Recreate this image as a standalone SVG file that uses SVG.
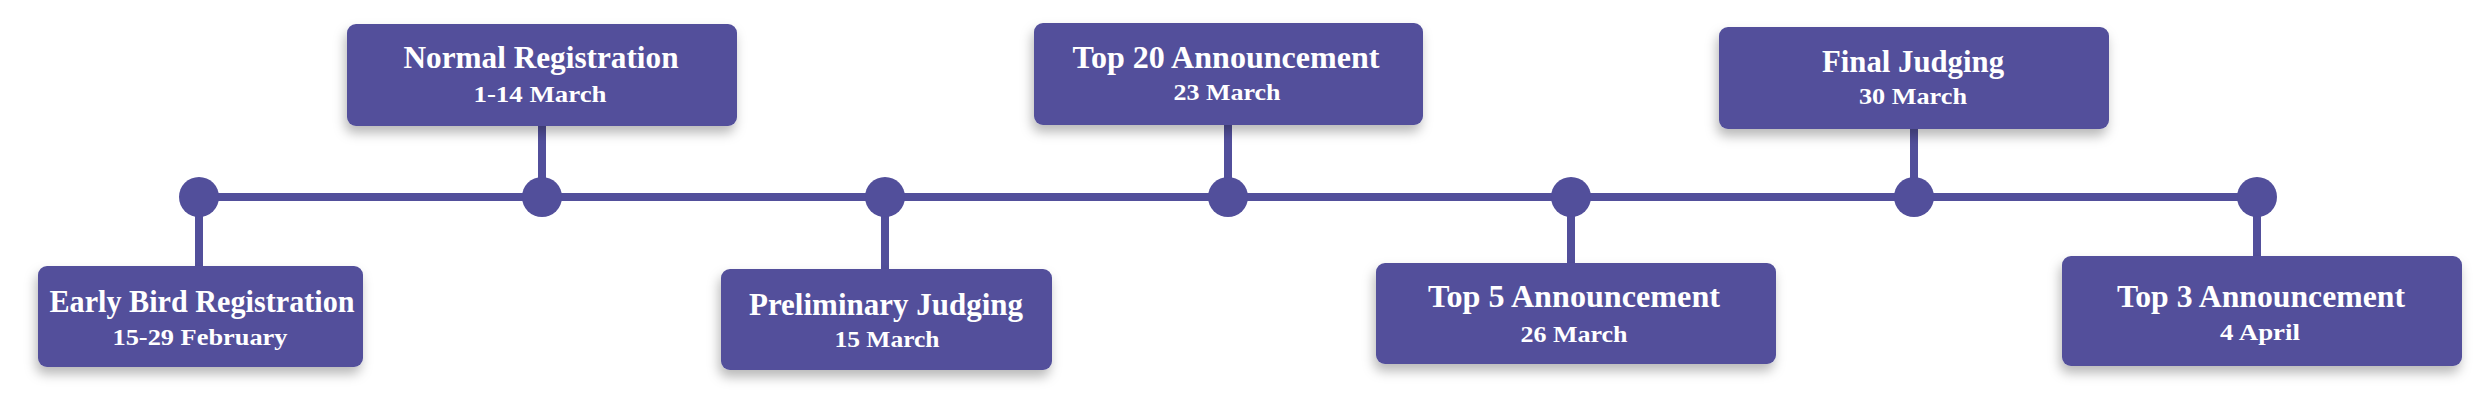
<svg xmlns="http://www.w3.org/2000/svg" width="2485" height="409" viewBox="0 0 2485 409">
<style>
.box{fill:#524F9B;filter:url(#sh)}
.ln{stroke:#524F9B;stroke-width:8;fill:none}
.dot{fill:#524F9B}
.t{font-family:"Liberation Serif","Times New Roman",serif;font-weight:bold;fill:#FFFFFF;text-anchor:middle}
.ti{font-size:32px}
.dt{font-size:24px}
</style>
<defs>
<filter id="sh" x="-10%" y="-20%" width="120%" height="160%">
<feDropShadow dx="-2" dy="7" stdDeviation="6" flood-color="#000000" flood-opacity="0.28"/>
</filter>
</defs>
<rect width="2485" height="409" fill="#FFFFFF"/>
<g id="connectors">
<line class="ln" x1="199" y1="197" x2="2257" y2="197"/>
<line class="ln" x1="199" y1="197" x2="199" y2="268"/>
<line class="ln" x1="542" y1="124" x2="542" y2="197"/>
<line class="ln" x1="885" y1="197" x2="885" y2="271"/>
<line class="ln" x1="1228" y1="123" x2="1228" y2="197"/>
<line class="ln" x1="1571" y1="197" x2="1571" y2="265"/>
<line class="ln" x1="1914" y1="127" x2="1914" y2="197"/>
<line class="ln" x1="2257" y1="197" x2="2257" y2="258"/>
<circle class="dot" cx="199" cy="197" r="20"/>
<circle class="dot" cx="542" cy="197" r="20"/>
<circle class="dot" cx="885" cy="197" r="20"/>
<circle class="dot" cx="1228" cy="197" r="20"/>
<circle class="dot" cx="1571" cy="197" r="20"/>
<circle class="dot" cx="1914" cy="197" r="20"/>
<circle class="dot" cx="2257" cy="197" r="20"/>
</g>
<g id="early-bird">
<rect class="box" x="38" y="266" width="325" height="101" rx="9"/>
<text class="t ti" x="202" y="312" textLength="305" lengthAdjust="spacingAndGlyphs">Early Bird Registration</text>
<text class="t dt" x="200" y="345" textLength="175" lengthAdjust="spacingAndGlyphs">15-29 February</text>
</g>
<g id="normal-registration">
<rect class="box" x="347" y="24" width="390" height="102" rx="9"/>
<text class="t ti" x="541" y="68" textLength="275" lengthAdjust="spacingAndGlyphs">Normal Registration</text>
<text class="t dt" x="540" y="102" textLength="133" lengthAdjust="spacingAndGlyphs">1-14 March</text>
</g>
<g id="preliminary-judging">
<rect class="box" x="721" y="269" width="331" height="101" rx="9"/>
<text class="t ti" x="886" y="315" textLength="274" lengthAdjust="spacingAndGlyphs">Preliminary Judging</text>
<text class="t dt" x="887" y="347" textLength="105" lengthAdjust="spacingAndGlyphs">15 March</text>
</g>
<g id="top-20">
<rect class="box" x="1034" y="23" width="389" height="102" rx="9"/>
<text class="t ti" x="1226" y="68" textLength="307" lengthAdjust="spacingAndGlyphs">Top 20 Announcement</text>
<text class="t dt" x="1227" y="100" textLength="107" lengthAdjust="spacingAndGlyphs">23 March</text>
</g>
<g id="top-5">
<rect class="box" x="1376" y="263" width="400" height="101" rx="9"/>
<text class="t ti" x="1574" y="307" textLength="292" lengthAdjust="spacingAndGlyphs">Top 5 Announcement</text>
<text class="t dt" x="1574" y="342" textLength="107" lengthAdjust="spacingAndGlyphs">26 March</text>
</g>
<g id="final-judging">
<rect class="box" x="1719" y="27" width="390" height="102" rx="9"/>
<text class="t ti" x="1913" y="72" textLength="182" lengthAdjust="spacingAndGlyphs">Final Judging</text>
<text class="t dt" x="1913" y="104" textLength="108" lengthAdjust="spacingAndGlyphs">30 March</text>
</g>
<g id="top-3">
<rect class="box" x="2062" y="256" width="400" height="110" rx="9"/>
<text class="t ti" x="2261" y="307" textLength="288" lengthAdjust="spacingAndGlyphs">Top 3 Announcement</text>
<text class="t dt" x="2260" y="340" textLength="80" lengthAdjust="spacingAndGlyphs">4 April</text>
</g>
</svg>
